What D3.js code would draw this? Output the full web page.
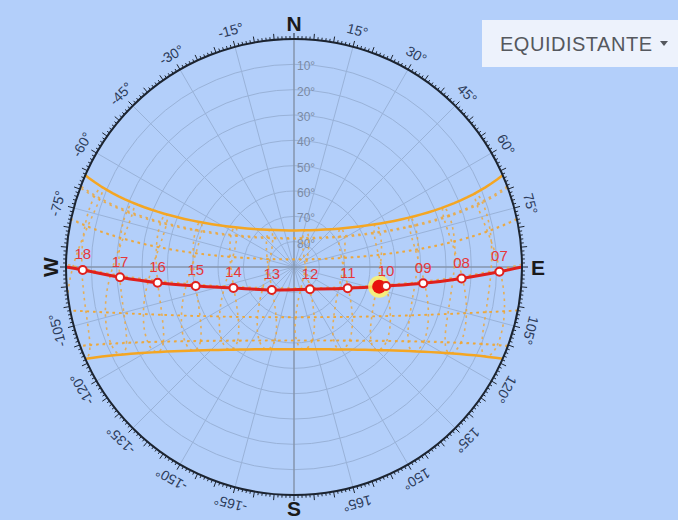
<!DOCTYPE html>
<html>
<head>
<meta charset="utf-8">
<script src="https://cdn.jsdelivr.net/npm/d3@7"></script>
<style>
  body { margin: 0; background: #b3cffa; }
  svg { display: block; font-family: "Liberation Sans", Arial, sans-serif; }
</style>
</head>
<body>
<div id="chart"></div>
<script>
// Site and sun data (Panama-like site)
const latitude = 9.0;          // deg N
const lonCorrMin = -18;        // clock -> mean solar time, minutes

// 6th and 21st of each month: declination (deg) and equation of time (min)
const dates = ["Jan 6","Jan 21","Feb 6","Feb 21","Mar 6","Mar 21","Apr 6","Apr 21","May 6","May 21","Jun 6","Jun 21",
               "Jul 6","Jul 21","Aug 6","Aug 21","Sep 6","Sep 21","Oct 6","Oct 21","Nov 6","Nov 21","Dec 6","Dec 21"];
const declination = [-22.5,-20.1,-15.9,-10.8,-5.8,0.1,6.3,11.9,16.6,20.1,22.6,23.44,
                     22.6,20.5,16.6,12.1,6.4,0.7,-5.1,-10.9,-16.1,-19.9,-22.5,-23.44];
const eqTime = [-5.6,-11.2,-14.1,-13.8,-11.6,-7.4,-2.6,1.2,3.4,3.5,1.6,-1.6,
                -4.7,-6.3,-5.9,-3.3,1.6,7.0,12.2,15.4,16.3,14.0,9.2,2.0];
const analemmaHours = [6,7,8,9,10,11,12,13,14,15,16,17,18];

// today's path: hour label, azimuth, elevation
const todayHours = ["07","08","09","10","11","12","13","14","15","16","17","18"];
const todayAz = [91.3, 93.9, 97.2, 101.7, 111.6, 144.3, -135.9, -109.1, -100.9, -96.6, -93.4, -90.8];
const todayEl = [8.9, 23.7, 38.6, 52.9, 67.2, 79.2, 77.4, 64.7, 50.5, 35.8, 21.2, 6.6];
const sunNow = {az: 103, el: 55.5};

// rim and grid labels
const rimLabels = [-165,-150,-135,-120,-105,-75,-60,-45,-30,-15,15,30,45,60,75,105,120,135,150,165];
const elevLabels = [10,20,30,40,50,60,70,80];
const cardinals = [{t: "N", az: 0, rot: 0, off: 16}, {t: "E", az: 90, rot: 0, off: 16},
                   {t: "S", az: 180, rot: 0, off: 13}, {t: "W", az: -90, rot: -90, off: 16}];

const W = 678, H = 520;
const cx = 294, cy = 267, R = 228;
const rad = Math.PI / 180;

const svg = d3.select("#chart").append("svg")
    .attr("width", W)
    .attr("height", H);

svg.append("rect").attr("width", W).attr("height", H).attr("fill", "#b3cffa");

const g = svg.append("g").attr("transform", `translate(${cx},${cy})`);

// elevation -> radius (equidistant)
const r = d3.scaleLinear().domain([90, 0]).range([0, R]);

const radial = d3.lineRadial()
    .angle(d => d.az * rad)
    .radius(d => r(d.el));

function sunPos(dec, ha) {
    const p = latitude * rad, d = dec * rad, h = ha * rad;
    const east = -Math.cos(d) * Math.sin(h);
    const north = Math.sin(d) * Math.cos(p) - Math.cos(d) * Math.cos(h) * Math.sin(p);
    const up = Math.sin(d) * Math.sin(p) + Math.cos(d) * Math.cos(h) * Math.cos(p);
    return {az: Math.atan2(east, north) / rad, el: Math.asin(up) / rad};
}

// clip
svg.append("defs").append("clipPath").attr("id", "dome")
    .append("circle").attr("cx", cx).attr("cy", cy).attr("r", R);

// grid circles
g.selectAll(".elev")
    .data(elevLabels)
    .enter().append("circle")
    .attr("r", d => r(d))
    .attr("fill", "none")
    .attr("stroke", "#99b2d8")
    .attr("stroke-width", 1);

// azimuth spokes every 15 deg
g.selectAll(".spoke")
    .data(d3.range(0, 360, 15).filter(a => a % 90 !== 0))
    .enter().append("line")
    .attr("x1", 0).attr("y1", 0)
    .attr("x2", d => R * Math.sin(d * rad))
    .attr("y2", d => -R * Math.cos(d * rad))
    .attr("stroke", "#99b2d8")
    .attr("stroke-width", 1);

// main axes
g.append("line").attr("x1", 0).attr("y1", -R).attr("x2", 0).attr("y2", R)
    .attr("stroke", "#8495ad").attr("stroke-width", 1.5);
g.append("line").attr("x1", -R).attr("y1", 0).attr("x2", R).attr("y2", 0)
    .attr("stroke", "#8495ad").attr("stroke-width", 1.5);

// elevation labels
g.selectAll(".elevLabel")
    .data(elevLabels)
    .enter().append("text")
    .attr("x", 3)
    .attr("y", d => -r(d) + 2)
    .attr("dominant-baseline", "central")
    .attr("font-size", 12)
    .attr("fill", "#7b8aa3")
    .text(d => d + "°");

// sun path curves
const paths = g.append("g").attr("clip-path", "url(#dome)")
    .attr("transform", `translate(${-cx},${-cy})`)
    .append("g").attr("transform", `translate(${cx},${cy})`);

function dayPath(dec) {
    const h0 = Math.acos(-Math.tan(latitude * rad) * Math.tan(dec * rad)) / rad;
    const steps = d3.range(-h0, h0, 3).concat([h0]);
    return steps.map(ha => sunPos(dec, ha));
}

// monthly (21st) dotted paths
const monthIdx = d3.range(1, 24, 2).filter(i => i !== 11 && i !== 23);
paths.selectAll(".month")
    .data(monthIdx)
    .enter().append("path")
    .attr("d", i => radial.curve(d3.curveLinear)(dayPath(declination[i])))
    .attr("fill", "none")
    .attr("stroke", "#f0a530")
    .attr("stroke-width", 1.6)
    .attr("stroke-dasharray", "2.5,4")
    .attr("opacity", 0.8);

// hour analemmas
paths.selectAll(".analemma")
    .data(analemmaHours)
    .enter().append("path")
    .attr("d", h => radial.curve(d3.curveCatmullRomClosed)(declination.map((dec, i) =>
        sunPos(dec, 15 * (h + (lonCorrMin + eqTime[i]) / 60 - 12)))))
    .attr("fill", "none")
    .attr("stroke", "#f0a530")
    .attr("stroke-width", 1.6)
    .attr("stroke-dasharray", "2.5,4")
    .attr("opacity", 0.8);

// solstices
paths.selectAll(".solstice")
    .data([11, 23])
    .enter().append("path")
    .attr("d", i => radial.curve(d3.curveLinear)(dayPath(declination[i])))
    .attr("fill", "none")
    .attr("stroke", "#f4a623")
    .attr("stroke-width", 2.5);

// today's path
const today = todayHours.map((h, i) => ({h: h, az: todayAz[i], el: todayEl[i]}));
const todayLine = [{az: 90, el: 0}].concat(today, [{az: -90, el: 0}]);
paths.append("path")
    .attr("d", radial.curve(d3.curveCatmullRom)(todayLine))
    .attr("fill", "none")
    .attr("stroke", "#e0201c")
    .attr("stroke-width", 3);

function xy(d) {
    return [r(d.el) * Math.sin(d.az * rad), -r(d.el) * Math.cos(d.az * rad)];
}

// current sun
g.append("circle")
    .attr("cx", xy(sunNow)[0]).attr("cy", xy(sunNow)[1])
    .attr("r", 11)
    .attr("fill", "#fff36a")
    .attr("opacity", 0.85);
g.append("circle")
    .attr("cx", xy(sunNow)[0]).attr("cy", xy(sunNow)[1])
    .attr("r", 7)
    .attr("fill", "#e8120c");

// hour markers
g.selectAll(".hour")
    .data(today)
    .enter().append("circle")
    .attr("cx", d => xy(d)[0])
    .attr("cy", d => xy(d)[1])
    .attr("r", 4)
    .attr("fill", "#ffffff")
    .attr("stroke", "#e0201c")
    .attr("stroke-width", 2);

g.selectAll(".hourLabel")
    .data(today)
    .enter().append("text")
    .attr("x", d => xy(d)[0])
    .attr("y", d => xy(d)[1] - 16)
    .attr("text-anchor", "middle")
    .attr("dominant-baseline", "central")
    .attr("font-size", 15)
    .attr("fill", "#e5383b")
    .text(d => d.h);

// rim
g.append("circle")
    .attr("r", R)
    .attr("fill", "none")
    .attr("stroke", "#1c2430")
    .attr("stroke-width", 2);

g.selectAll(".tick")
    .data(d3.range(0, 360, 1))
    .enter().append("line")
    .attr("x1", d => R * Math.sin(d * rad))
    .attr("y1", d => -R * Math.cos(d * rad))
    .attr("x2", d => (R + (d % 5 === 0 ? 6 : 3)) * Math.sin(d * rad))
    .attr("y2", d => -(R + (d % 5 === 0 ? 6 : 3)) * Math.cos(d * rad))
    .attr("stroke", "#1c2430")
    .attr("stroke-width", 1);

g.selectAll(".rimLabel")
    .data(rimLabels)
    .enter().append("text")
    .attr("transform", d => `rotate(${d}) translate(0,${-(R + 17)})`)
    .attr("text-anchor", "middle")
    .attr("dominant-baseline", "central")
    .attr("font-size", 14)
    .attr("fill", "#2d3c5a")
    .text(d => d + "°");

g.selectAll(".cardinal")
    .data(cardinals)
    .enter().append("text")
    .attr("transform", d => `translate(${(R + d.off) * Math.sin(d.az * rad)},${-(R + d.off) * Math.cos(d.az * rad)}) rotate(${d.rot})`)
    .attr("text-anchor", "middle")
    .attr("dominant-baseline", "central")
    .attr("font-size", 21)
    .attr("font-weight", "bold")
    .attr("fill", "#1a1a1a")
    .text(d => d.t);

// projection dropdown
const menu = svg.append("g").attr("transform", "translate(482,20)");
menu.append("rect")
    .attr("width", 210).attr("height", 47)
    .attr("fill", "#edf2fc");
menu.append("text")
    .attr("x", 18).attr("y", 24)
    .attr("dominant-baseline", "central")
    .attr("font-size", 20)
    .attr("textLength", 152)
    .attr("fill", "#55585e")
    .text("EQUIDISTANTE");
menu.append("path")
    .attr("d", "M178,21 L186,21 L182,26 Z")
    .attr("fill", "#55585e");
</script>
</body>
</html>
